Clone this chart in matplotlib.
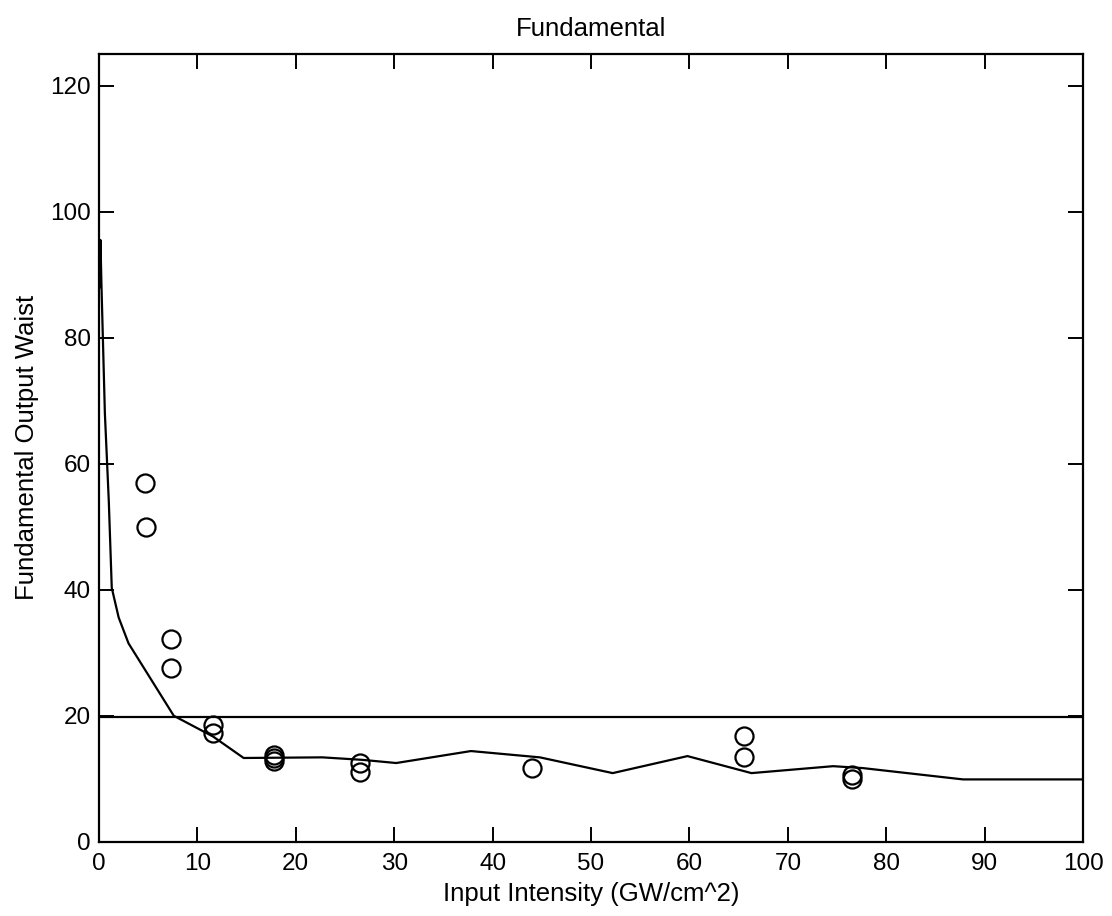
import numpy as np
import matplotlib
matplotlib.use("Agg")
import matplotlib.pyplot as plt

plt.rcParams['font.family'] = ['Liberation Sans', 'DejaVu Sans']

# simulated curve
sim_x = [0.05, 0.15, 0.25, 0.6, 1.0, 1.3, 2.0, 3.0, 7.6, 11.6, 14.7, 22.7,
         26.8, 30.2, 37.8, 44.8, 52.2, 59.8, 66.3, 74.6, 77.6, 87.8, 100]
sim_y = [88, 95.5, 88.5, 68, 54, 40.3, 35.6, 31.5, 20.0, 16.7, 13.3, 13.4,
         13.0, 12.5, 14.4, 13.4, 10.9, 13.6, 10.9, 12.0, 11.7, 9.9, 9.9]

# measured points
meas_x = [4.7, 4.75, 7.3, 7.3, 11.55, 11.55, 17.8, 17.8, 17.8, 26.5, 26.5,
          44.0, 65.5, 65.5, 76.5, 76.5]
meas_y = [56.9, 50.0, 32.2, 27.5, 18.5, 17.2, 13.8, 13.3, 12.9, 12.5, 11.1,
          11.7, 16.8, 13.4, 10.6, 9.9]

ref_level = 19.8

fig = plt.figure(figsize=(11.12, 9.16), dpi=100)
ax = fig.add_axes([0.089, 0.081, 0.885, 0.860])

ax.plot(sim_x, sim_y, color='black', lw=1.6)
ax.axhline(ref_level, color='black', lw=1.6)
ax.plot(meas_x, meas_y, 'o', mfc='none', mec='black', ms=13, mew=1.6)

ax.set_xlim(0, 100)
ax.set_ylim(0, 125)
ax.set_xticks(np.arange(0, 101, 10))
ax.set_yticks(np.arange(0, 121, 20))
ax.tick_params(direction='in', length=11, width=1.4, top=True, right=True,
               labelsize=17.5)
ax.tick_params(axis='x', pad=8)
ax.tick_params(axis='y', pad=6)
for s in ax.spines.values():
    s.set_linewidth(1.6)

ax.set_title("Fundamental", fontsize=18.5, pad=13)
ax.set_xlabel("Input Intensity (GW/cm^2)", fontsize=18.5, labelpad=5)
ax.set_ylabel("Fundamental Output Waist", fontsize=18.5, labelpad=8)

fig.savefig("out.png", dpi=100)
